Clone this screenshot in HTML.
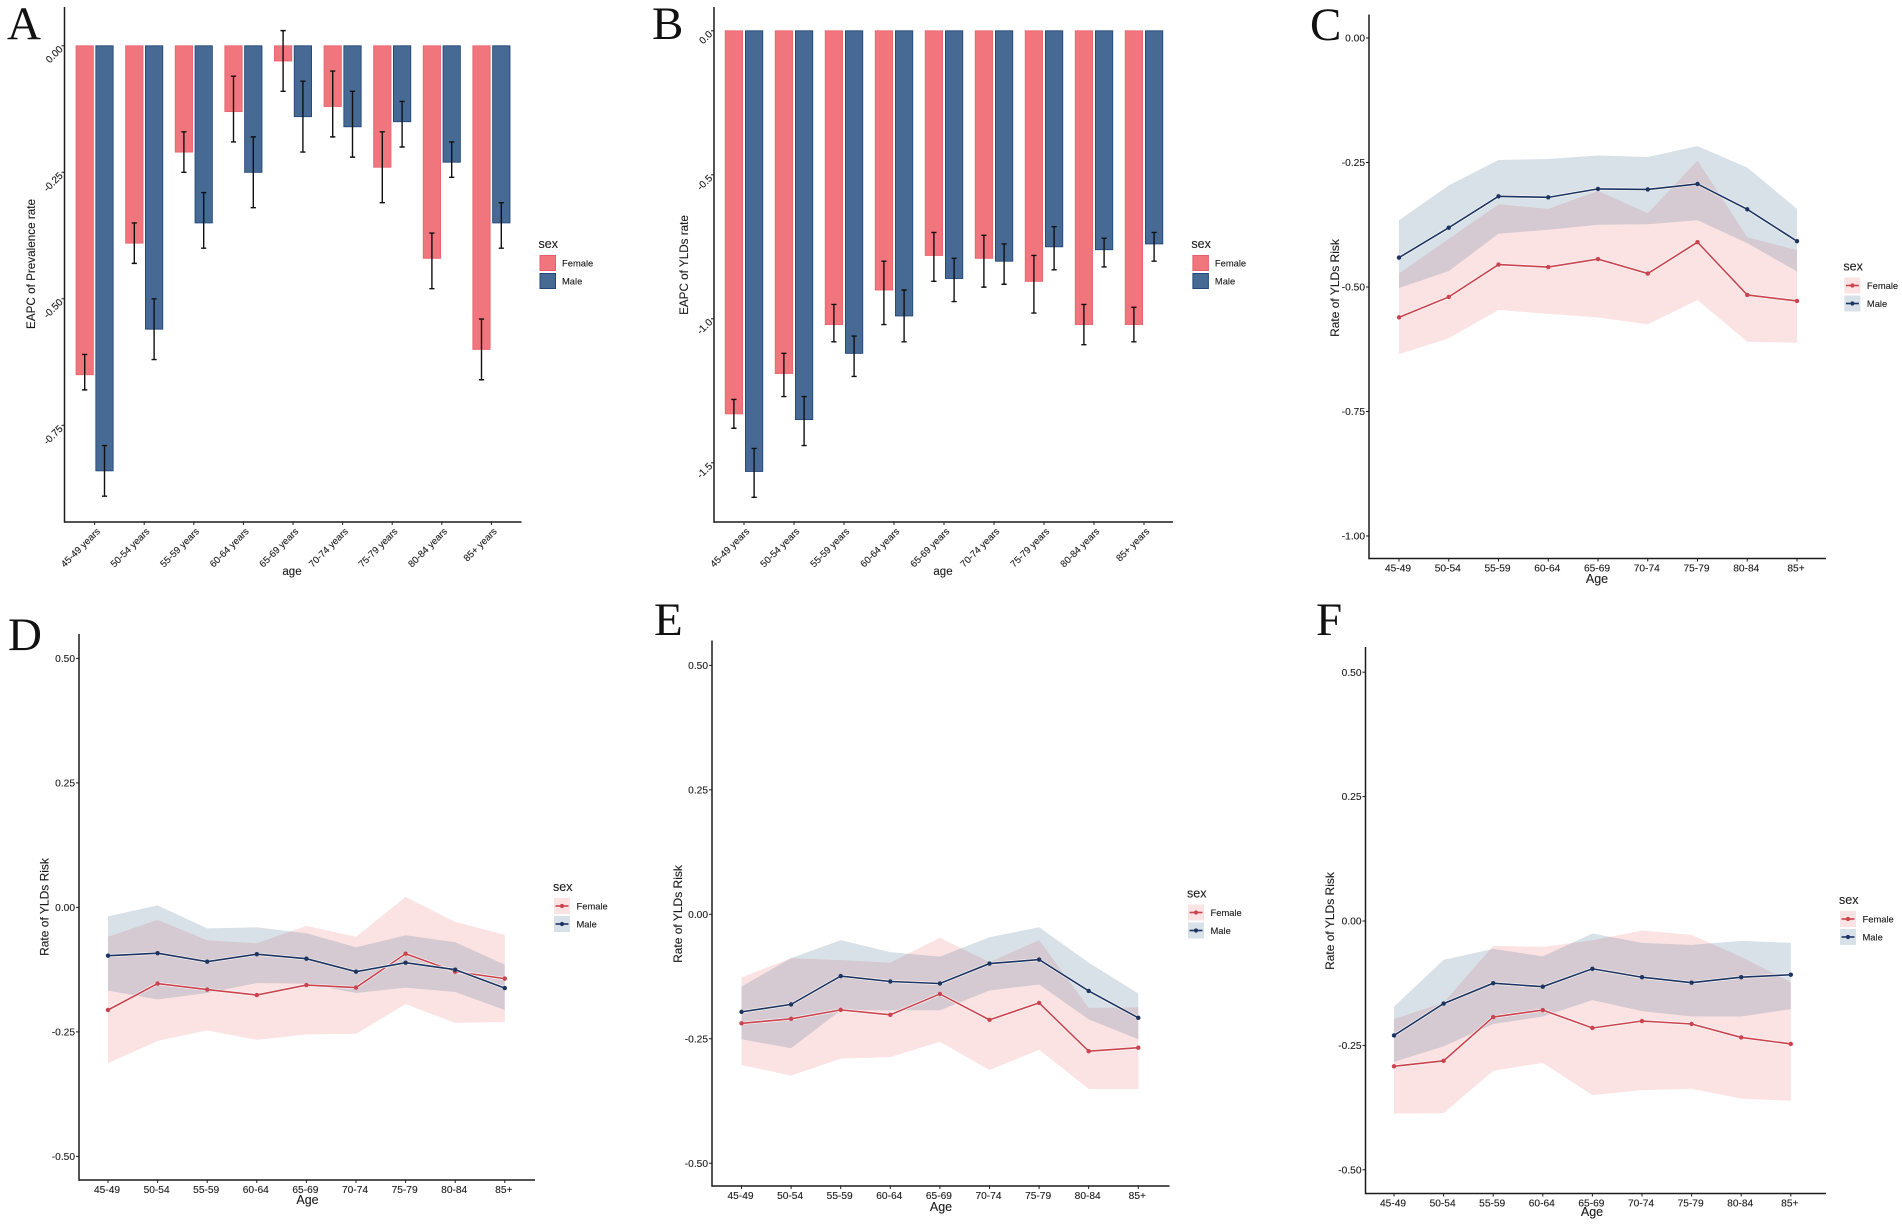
<!DOCTYPE html>
<html lang="en">
<head>
<meta charset="utf-8">
<title>EAPC and rate of YLDs risk by age and sex</title>
<style>
html,body{margin:0;padding:0;background:#fff;width:1902px;height:1225px;overflow:hidden}
svg{display:block;filter:blur(.3px)}
text{font-family:"Liberation Sans",sans-serif;fill:#1c1c1c;stroke:#1c1c1c;stroke-width:.12px}
.letter{font-family:"Liberation Serif",serif;font-size:47px;fill:#111;stroke:none}
</style>
</head>
<body>
<svg id="fig" width="1902" height="1225" viewBox="0 0 1902 1225" xmlns="http://www.w3.org/2000/svg">
  <rect width="1902" height="1225" fill="#fff"/>
  <text class="letter" x="7" y="39">A</text>
  <text class="letter" x="652" y="39">B</text>
  <text class="letter" x="1310" y="40">C</text>
  <text class="letter" x="8" y="650">D</text>
  <text class="letter" x="654" y="635">E</text>
  <text class="letter" x="1316" y="635">F</text>
</svg>
<script>
// ---------- data ----------
const barCategories = ['45-49 years','50-54 years','55-59 years','60-64 years','65-69 years','70-74 years','75-79 years','80-84 years','85+ years'];
const lineCategories = ['45-49','50-54','55-59','60-64','65-69','70-74','75-79','80-84','85+'];

const aTicks = [0,-0.25,-0.5,-0.75];
const aTickLabels = ['0.00','-0.25','-0.50','-0.75'];
const aFemale = [-0.65,-0.39,-0.21,-0.13,-0.03,-0.12,-0.24,-0.42,-0.60];
const aMale = [-0.84,-0.56,-0.35,-0.25,-0.14,-0.16,-0.15,-0.23,-0.35];
const aFemaleHigh = [-0.61,-0.35,-0.17,-0.06,0.03,-0.05,-0.17,-0.37,-0.54];
const aFemaleLow = [-0.68,-0.43,-0.25,-0.19,-0.09,-0.18,-0.31,-0.48,-0.66];
const aMaleHigh = [-0.79,-0.50,-0.29,-0.18,-0.07,-0.09,-0.11,-0.19,-0.31];
const aMaleLow = [-0.89,-0.62,-0.40,-0.32,-0.21,-0.22,-0.20,-0.26,-0.40];

const bTicks = [0,-0.5,-1,-1.5];
const bTickLabels = ['0.0','-0.5','-1.0','-1.5'];
const bFemale = [-1.33,-1.19,-1.02,-0.90,-0.78,-0.79,-0.87,-1.02,-1.02];
const bMale = [-1.53,-1.35,-1.12,-0.99,-0.86,-0.80,-0.75,-0.76,-0.74];
const bFemaleHigh = [-1.28,-1.12,-0.95,-0.80,-0.70,-0.71,-0.78,-0.95,-0.96];
const bFemaleLow = [-1.38,-1.27,-1.08,-1.02,-0.87,-0.89,-0.98,-1.09,-1.08];
const bMaleHigh = [-1.45,-1.27,-1.06,-0.90,-0.79,-0.74,-0.68,-0.72,-0.70];
const bMaleLow = [-1.62,-1.44,-1.20,-1.08,-0.94,-0.88,-0.83,-0.82,-0.80];

const cTicks = [0,-0.25,-0.5,-0.75,-1];
const cTickLabels = ['0.00','-0.25','-0.50','-0.75','-1.00'];
const cFemale = [-0.561,-0.520,-0.455,-0.460,-0.444,-0.473,-0.410,-0.516,-0.528];
const cMale = [-0.441,-0.381,-0.318,-0.320,-0.303,-0.304,-0.293,-0.344,-0.408];
const cFemaleUpper = [-0.473,-0.403,-0.334,-0.343,-0.307,-0.352,-0.246,-0.400,-0.426];
const cFemaleLower = [-0.635,-0.603,-0.546,-0.554,-0.561,-0.575,-0.526,-0.610,-0.612];
const cMaleUpper = [-0.366,-0.296,-0.245,-0.243,-0.236,-0.239,-0.217,-0.260,-0.343];
const cMaleLower = [-0.502,-0.468,-0.393,-0.385,-0.375,-0.374,-0.366,-0.412,-0.469];

const halfTicks = [0.5,0.25,0,-0.25,-0.5];
const halfTickLabels = ['0.50','0.25','0.00','-0.25','-0.50'];

const dFemale = [-0.206,-0.153,-0.165,-0.176,-0.156,-0.161,-0.093,-0.129,-0.143];
const dMale = [-0.097,-0.092,-0.109,-0.094,-0.103,-0.129,-0.111,-0.125,-0.162];
const dFemaleUpper = [-0.059,-0.025,-0.066,-0.072,-0.037,-0.059,0.021,-0.029,-0.055];
const dFemaleLower = [-0.313,-0.268,-0.247,-0.266,-0.255,-0.254,-0.194,-0.232,-0.230];
const dMaleUpper = [-0.018,0.004,-0.042,-0.040,-0.052,-0.080,-0.056,-0.070,-0.115];
const dMaleLower = [-0.167,-0.185,-0.172,-0.152,-0.153,-0.172,-0.161,-0.170,-0.206];

const eFemale = [-0.219,-0.210,-0.192,-0.202,-0.160,-0.212,-0.178,-0.275,-0.268];
const eMale = [-0.196,-0.181,-0.124,-0.135,-0.139,-0.099,-0.091,-0.154,-0.208];
const eFemaleUpper = [-0.127,-0.088,-0.092,-0.097,-0.047,-0.096,-0.052,-0.188,-0.187];
const eFemaleLower = [-0.303,-0.324,-0.290,-0.287,-0.256,-0.313,-0.272,-0.351,-0.351];
const eMaleUpper = [-0.145,-0.088,-0.052,-0.076,-0.085,-0.046,-0.026,-0.097,-0.159];
const eMaleLower = [-0.251,-0.269,-0.193,-0.193,-0.193,-0.153,-0.141,-0.211,-0.251];

const fFemale = [-0.292,-0.281,-0.193,-0.179,-0.215,-0.201,-0.207,-0.234,-0.247];
const fMale = [-0.230,-0.166,-0.125,-0.132,-0.096,-0.113,-0.124,-0.113,-0.108];
const fFemaleUpper = [-0.197,-0.164,-0.050,-0.052,-0.039,-0.019,-0.028,-0.072,-0.123];
const fFemaleLower = [-0.387,-0.386,-0.301,-0.285,-0.350,-0.340,-0.337,-0.357,-0.361];
const fMaleUpper = [-0.172,-0.078,-0.056,-0.071,-0.025,-0.044,-0.048,-0.040,-0.044];
const fMaleLower = [-0.283,-0.252,-0.207,-0.192,-0.159,-0.181,-0.192,-0.192,-0.177];

// ---------- helpers ----------
const NS = 'http://www.w3.org/2000/svg';
const root = document.getElementById('fig');
function mk(tag, attrs, parent, text) {
  const el = document.createElementNS(NS, tag);
  for (const k in attrs) el.setAttribute(k, attrs[k]);
  if (text !== undefined) el.textContent = text;
  parent.appendChild(el);
  return el;
}
const INK = '#1c1c1c';

function drawAxes(g, p, cats, ticks, tickLabels) {
  const x = i => p.firstX + i * p.stepX;
  const y = v => p.zeroY - v * p.unitPx;

  const yAxis = mk('line', {x1:p.left, x2:p.left, y1:p.top, y2:p.bottom + 0.7, stroke:INK, 'stroke-width':1.5}, g);
  
  
  const xAxis = mk('line', {x1:p.left, x2:p.right, y1:p.bottom, y2:p.bottom, stroke:INK, 'stroke-width':1.5}, g);
  
  

  ticks.forEach((v, i) => {
    const t = mk('line', {x1:p.left - 3, x2:p.left, y1:y(v), y2:y(v), stroke:INK, 'stroke-width':1}, g);
    
    
    const attrs = p.rotated
      ? {x:p.left - 1, y:y(v) + 4, 'text-anchor':'end', 'font-size':10, transform:'rotate(-45 ' + (p.left - 1) + ' ' + (y(v) + 4) + ')'}
      : {x:p.left - 4, y:y(v) + 3.6, 'text-anchor':'end', 'font-size':10.2};
    const lab = mk('text', attrs, g, tickLabels[i]);
    
    
  });

  cats.forEach((c, i) => {
    const t = mk('line', {x1:x(i), x2:x(i), y1:p.bottom, y2:p.bottom + 3, stroke:INK, 'stroke-width':1}, g);
    
    
    const attrs = p.rotated
      ? {x:x(i) + 6, y:p.bottom + 10, 'text-anchor':'end', 'font-size':9.6, transform:'rotate(-45 ' + (x(i) + 6) + ' ' + (p.bottom + 10) + ')'}
      : {x:x(i) - 1, y:p.bottom + 13, 'text-anchor':'middle', 'font-size':10.2};
    const lab = mk('text', attrs, g, c);
    
    
  });

  const xt = mk('text', {x:p.xTitleX, y:p.xTitleY, 'text-anchor':'middle', 'font-size':p.rotated ? 11.5 : 12.5}, g, p.xTitle);
  
  
  const yt = mk('text', {x:p.yTitleX, y:p.yTitleY, 'text-anchor':'middle', 'font-size':p.yTitleSize,
    transform:'rotate(-90 ' + p.yTitleX + ' ' + p.yTitleY + ')'}, g, p.yTitle);
  
  
}

function drawLegend(g, p, kind) {
  const title = mk('text', {x:p.legendX - 1, y:p.legendY - 7, 'font-size':12.5}, g, 'sex');
  
  
  const entries = [
    {label:'Female', bar:'#f1757c', barEdge:'#e4616a', band:'rgba(240,100,100,.18)', line:'#c9444f'},
    {label:'Male', bar:'#466a93', barEdge:'#23477a', band:'rgba(40,90,125,.18)', line:'#1d3461'}
  ];
  entries.forEach((e, i) => {
    const top = p.legendY + i * 18;
    const entry = mk('g', {}, g);
    
    
    if (kind === 'bar') {
      const key = mk('rect', {x:p.legendX + 0.5, y:top + 0.5, width:15.5, height:15, fill:e.bar, stroke:e.barEdge, 'stroke-width':1}, entry);
      
      
    } else {
      const key = mk('rect', {x:p.legendX, y:top, width:16, height:16, fill:e.band}, entry);
      
      
      const ln = mk('line', {x1:p.legendX + 1.5, x2:p.legendX + 14.5, y1:top + 8, y2:top + 8, stroke:e.line, 'stroke-width':1.6}, entry);
      
      
      const dot = mk('circle', {cx:p.legendX + 8, cy:top + 8, r:2.1, fill:e.line}, entry);
      
      
    }
    const lab = mk('text', {x:p.legendX + 22.5, y:top + 11.5, 'font-size':9.4}, entry, e.label);
    
    
  });
}

function drawBarPanel(name, p, ticks, labels, female, male, femaleHigh, femaleLow, maleHigh, maleLow) {
  const g = mk('g', {}, root);
  
  
  const x = i => p.firstX + i * p.stepX;
  const y = v => p.zeroY - v * p.unitPx;

  [[female, -1, '#f1757c', '#e96670', 'female'], [male, 1, '#466a93', '#23477a', 'male']].forEach(s => {
    s[0].forEach((v, i) => {
      const cx = x(i) + s[1] * p.dodge;
      const r = mk('rect', {x:cx - p.barW / 2, y:Math.min(y(0), y(v)), width:p.barW, height:Math.abs(y(v) - y(0)),
        fill:s[2], stroke:s[3], 'stroke-width':0.9}, g);
      
      
    });
  });

  [[femaleHigh, femaleLow, -1, 'female'], [maleHigh, maleLow, 1, 'male']].forEach(s => {
    s[0].forEach((hi, i) => {
      const cx = x(i) + s[2] * p.dodge;
      const d = 'M' + (cx - 2.6) + ' ' + y(hi) + 'H' + (cx + 2.6) + 'M' + cx + ' ' + y(hi) + 'V' + y(s[1][i]) +
                'M' + (cx - 2.6) + ' ' + y(s[1][i]) + 'H' + (cx + 2.6);
      const e = mk('path', {d:d, fill:'none', stroke:'#111', 'stroke-width':1.4}, g);
      
      
    });
  });

  drawAxes(g, p, barCategories, ticks, labels);
  drawLegend(g, p, 'bar');
}

function drawLinePanel(name, p, ticks, labels, female, male, fUp, fLow, mUp, mLow) {
  const g = mk('g', {}, root);
  
  
  const x = i => p.firstX + i * p.stepX;
  const y = v => p.zeroY - v * p.unitPx;
  const band = (up, low) => up.map((v, i) => x(i) + ',' + y(v)).concat(
    low.map((v, i) => x(i) + ',' + y(v)).reverse()).join(' ');
  const path = vals => vals.map((v, i) => x(i) + ',' + y(v)).join(' ');

  const fb = mk('polygon', {points:band(fUp, fLow), fill:'rgba(240,100,100,.18)'}, g);
  
  
  const mb = mk('polygon', {points:band(mUp, mLow), fill:'rgba(40,90,125,.18)'}, g);
  
  

  [[female, '#c9444f', 'female'], [male, '#1d3461', 'male']].forEach(s => {
    const halo = mk('polyline', {points:path(s[0]), fill:'none', stroke:'rgba(255,255,255,.8)', 'stroke-width':3}, g);
    
    
    const ln = mk('polyline', {points:path(s[0]), fill:'none', stroke:s[1], 'stroke-width':1.6}, g);
    
    
    s[0].forEach((v, i) => {
      const c = mk('circle', {cx:x(i), cy:y(v), r:2.2, fill:s[1]}, g);
      
      
    });
  });

  drawAxes(g, p, lineCategories, ticks, labels);
  drawLegend(g, p, 'line');
}

// ---------- panels ----------
drawBarPanel('panel-a-prevalence-eapc', {
  rotated:true, left:64.5, right:521.5, top:7, bottom:522, zeroY:45.8, unitPx:506,
  firstX:94.6, stepX:49.6, dodge:9.9, barW:17.3,
  xTitle:'age', xTitleX:292, xTitleY:575, yTitle:'EAPC of Prevalence rate', yTitleX:35, yTitleY:264, yTitleSize:11.7,
  legendX:539.5, legendY:255
}, aTicks, aTickLabels, aFemale, aMale, aFemaleHigh, aFemaleLow, aMaleHigh, aMaleLow);

drawBarPanel('panel-b-ylds-eapc', {
  rotated:true, left:714, right:1173, top:7, bottom:522, zeroY:30.8, unitPx:288,
  firstX:744, stepX:50, dodge:10.1, barW:17.3,
  xTitle:'age', xTitleX:943, xTitleY:575, yTitle:'EAPC of YLDs rate', yTitleX:688, yTitleY:265, yTitleSize:11.7,
  legendX:1192.4, legendY:255
}, bTicks, bTickLabels, bFemale, bMale, bFemaleHigh, bFemaleLow, bMaleHigh, bMaleLow);

drawLinePanel('panel-c-ylds-risk', {
  left:1369, right:1826, top:14.5, bottom:558.5, zeroY:38, unitPx:498,
  firstX:1399, stepX:49.75,
  xTitle:'Age', xTitleX:1597, xTitleY:583, yTitle:'Rate of YLDs Risk', yTitleX:1339, yTitleY:288, yTitleSize:12,
  legendX:1844.4, legendY:277.5
}, cTicks, cTickLabels, cFemale, cMale, cFemaleUpper, cFemaleLower, cMaleUpper, cMaleLower);

drawLinePanel('panel-d-ylds-risk', {
  left:79, right:535, top:634, bottom:1180, zeroY:907.4, unitPx:498,
  firstX:108, stepX:49.6,
  xTitle:'Age', xTitleX:307.5, xTitleY:1204, yTitle:'Rate of YLDs Risk', yTitleX:48.5, yTitleY:907, yTitleSize:12,
  legendX:554, legendY:898
}, halfTicks, halfTickLabels, dFemale, dMale, dFemaleUpper, dFemaleLower, dMaleUpper, dMaleLower);

drawLinePanel('panel-e-ylds-risk', {
  left:712, right:1169.5, top:640.5, bottom:1186, zeroY:914.3, unitPx:497.8,
  firstX:741.5, stepX:49.6,
  xTitle:'Age', xTitleX:941, xTitleY:1211, yTitle:'Rate of YLDs Risk', yTitleX:682, yTitleY:914, yTitleSize:12,
  legendX:1188, legendY:904.5
}, halfTicks, halfTickLabels, eFemale, eMale, eFemaleUpper, eFemaleLower, eMaleUpper, eMaleLower);

drawLinePanel('panel-f-ylds-risk', {
  left:1365.5, right:1826, top:647, bottom:1193.5, zeroY:921, unitPx:497.6,
  firstX:1394, stepX:49.6,
  xTitle:'Age', xTitleX:1592, xTitleY:1216, yTitle:'Rate of YLDs Risk', yTitleX:1334, yTitleY:921, yTitleSize:12,
  legendX:1840, legendY:911
}, halfTicks, halfTickLabels, fFemale, fMale, fFemaleUpper, fFemaleLower, fMaleUpper, fMaleLower);
</script>
</body>
</html>
